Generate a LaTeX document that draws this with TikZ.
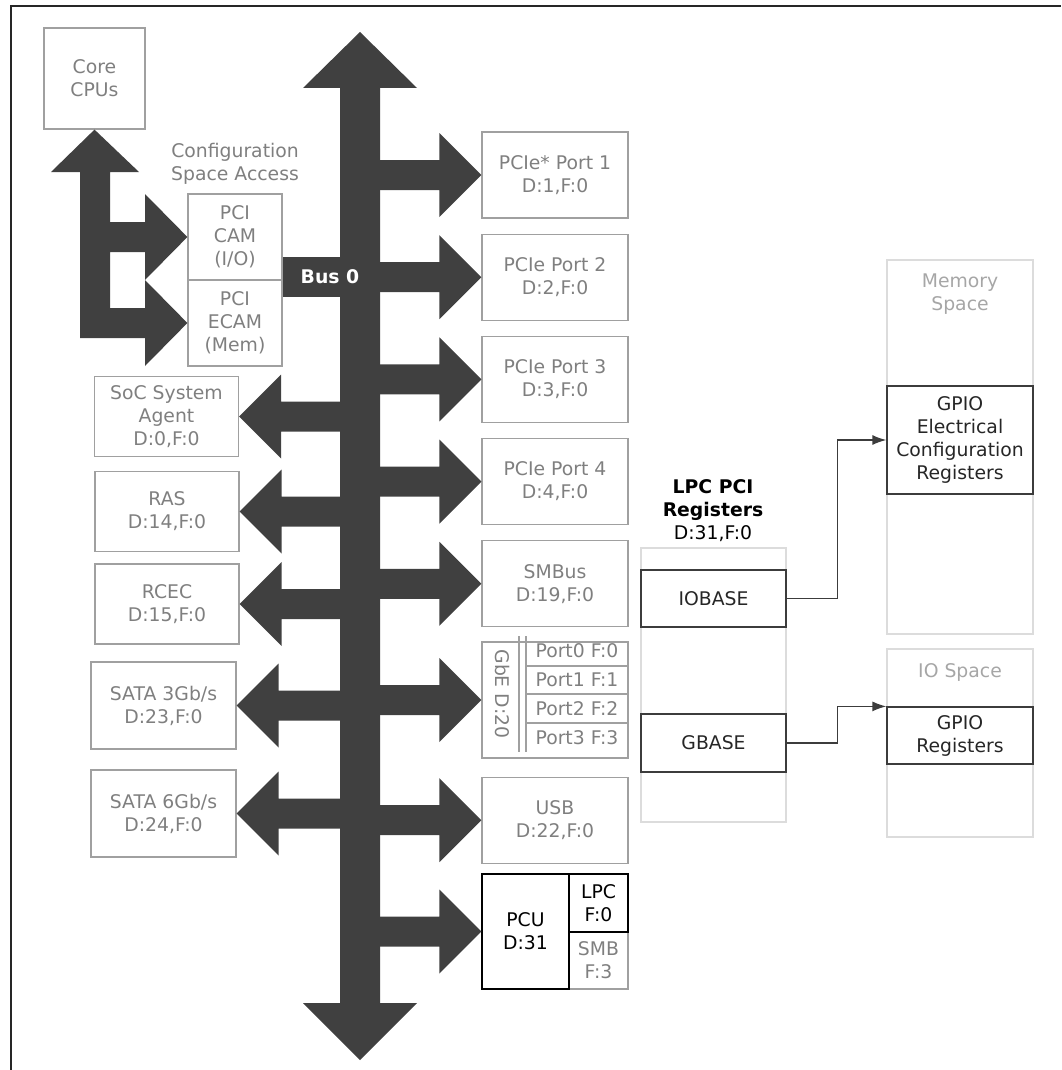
\documentclass[tikz,border=0pt]{standalone}
\usepackage{fontspec}
\setmainfont{DejaVu Sans}
\usetikzlibrary{arrows.meta,positioning}

\definecolor{busgray}{HTML}{404040}
\definecolor{boxline}{HTML}{A0A0A0}
\definecolor{boxtext}{HTML}{7F7F7F}
\definecolor{paleline}{HTML}{DCDCDC}
\definecolor{paletext}{HTML}{A6A6A6}
\definecolor{regline}{HTML}{3C3C3C}
\definecolor{regtext}{HTML}{262626}
\newcommand{\boxfont}{\fontsize{18.8}{23}\selectfont}

\begin{document}
\begin{tikzpicture}[
  x=1pt, y=-1pt,
  box/.style={draw=boxline, line width=1.2pt, text=boxtext, align=center,
              inner sep=0pt, font=\boxfont},
  pcibox/.style={box, minimum width=146pt, minimum height=86pt},
  leftbox/.style={box, minimum width=144pt, minimum height=80pt},
  regbox/.style={draw=regline, line width=1.2pt, text=regtext, align=center,
                 inner sep=0pt, font=\boxfont, minimum width=146pt},
  space/.style={draw=paleline, line width=1.2pt, inner sep=0pt,
                minimum width=146pt},
  lbl/.style={align=center, inner sep=0pt, font=\boxfont},
  bus/.style={fill=busgray},
  link/.style={draw=regline, line width=1.5pt, -{Latex[length=14pt,width=10pt]}}
]
\useasboundingbox (0,0) rectangle (1061,1070);
\draw[line width=2pt, black!85] (11,1070) -- (11,6) -- (1061,6);

% CPU side
\node[box, minimum width=101pt, minimum height=101pt] (cpu) at (94.5,78.5) {Core\\CPUs};
\node[lbl, text=boxtext] (cfg) at (235,164) {Configuration\\Space Access};
\node[box, minimum width=94pt, minimum height=86pt] (cam)  at (235,237) {PCI\\CAM\\(I/O)};
\node[box, minimum width=94pt, minimum height=86pt] (ecam) at (235,323) {PCI\\ECAM\\(Mem)};

\fill[bus] (cpu.south) -- (139,172) -- (110,172) -- (110,222) -- (145,222)
  -- (145,194) -- (cam.west) -- (145,280) -- (145,252) -- (110,252)
  -- (110,308) -- (145,308) -- (145,280) -- (ecam.west) -- (145,366)
  -- (145,338) -- (80,338) -- (80,172) -- (51,172) -- cycle;

% left devices
\node[leftbox] (sa)   at (166.5,416.5) {SoC System\\Agent\\D:0,F:0};
\node[leftbox] (ras)  at (167,511.5)   {RAS\\D:14,F:0};
\node[leftbox] (rcec) at (167,604)     {RCEC\\D:15,F:0};
\node[leftbox, minimum width=145pt, minimum height=87pt] (sata3) at (163.5,705.5) {SATA 3Gb/s\\D:23,F:0};
\node[leftbox, minimum width=145pt, minimum height=87pt] (sata6) at (163.5,813.5) {SATA 6Gb/s\\D:24,F:0};

% right devices
\node[pcibox] (pcie1) at (555,175) {PCIe* Port 1\\D:1,F:0};
\node[pcibox, below=15pt of pcie1] (pcie2) {PCIe Port 2\\D:2,F:0};
\node[pcibox, below=15pt of pcie2] (pcie3) {PCIe Port 3\\D:3,F:0};
\node[pcibox, below=15pt of pcie3] (pcie4) {PCIe Port 4\\D:4,F:0};
\node[pcibox, below=15pt of pcie4] (smbus) {SMBus\\D:19,F:0};
\node[box, minimum width=146pt, minimum height=116pt, below=14pt of smbus] (gbe) {};
\node[pcibox, below=18pt of gbe] (usb) {USB\\D:22,F:0};

% GbE ports
\draw[boxline, line width=1.2pt] (519,636) -- (519,752) (526,636) -- (526,752);
\foreach \y in {666,694,723}
  \draw[boxline, line width=1.2pt] (526,\y) -- (628,\y);
\node[lbl, text=boxtext, rotate=-90] (gbelbl) at (503,694) {GbE D:20};
\foreach \i/\y in {0/651,1/680,2/708.5,3/737.5}
  \node[lbl, text=boxtext] (gbeport\i) at (577,\y) {Port\i\ F:\i};

% PCU
\node[box, minimum width=59pt, minimum height=57pt] (smb) at (598.5,960.5) {SMB\\F:3};
\node[box, draw=black, text=black, minimum width=87pt, minimum height=115pt] (pcu) at (525.5,931.5) {PCU\\D:31};
\node[box, draw=black, text=black, minimum width=59pt, minimum height=58pt] (lpc) at (598.5,903) {LPC\\F:0};

% bus 0
\fill[bus] (360,32) -- (417,88) -- (380,88) -- (380,1003) -- (417,1003)
  -- (360,1060) -- (303,1003) -- (340,1003) -- (340,88) -- (303,88) -- cycle;
\fill[bus] (cam.east |- 0,257) rectangle (345,297);
\node[lbl, text=white, font=\boxfont\bfseries] (bus0) at (330,277) {Bus 0};

\foreach \n in {pcie1,pcie2,pcie3,pcie4,smbus,gbe,usb,pcu}
  \fill[bus] (\n.west) -- ++(-42,-42) -- ++(0,27) -- ++(-65,0) -- ++(0,30)
    -- ++(65,0) -- ++(0,27) -- cycle;
\foreach \n in {sa,ras,rcec,sata3,sata6}
  \fill[bus] (\n.east) -- ++(42,-42) -- ++(0,27) -- ++(70,0) -- ++(0,30)
    -- ++(-70,0) -- ++(0,27) -- cycle;

% LPC registers and address spaces
\node[lbl, text=black] (lpctitle) at (713,511) {\textbf{LPC PCI}\\\textbf{Registers}\\D:31,F:0};
\node[space, minimum width=145pt, minimum height=274pt] (lpcregs) at (713.5,685) {};
\node[regbox, minimum width=145pt, minimum height=57pt] (iobase) at (713.5,598.5) {IOBASE};
\node[regbox, minimum width=145pt, minimum height=58pt] (gbase)  at (713.5,743) {GBASE};

\node[space, minimum height=374pt] (memspace) at (960,447) {};
\node[lbl, text=paletext] (memlbl) at (960,294) {Memory\\Space};
\node[regbox, minimum height=108pt] (gpioe) at (960,440) {GPIO\\Electrical\\Configuration\\Registers};

\node[space, minimum height=188pt] (iospace) at (960,743) {};
\node[lbl, text=paletext] (iolbl) at (960,672) {IO Space};
\node[regbox, minimum height=57pt] (gpior) at (960,735.5) {GPIO\\Registers};

\draw[link] (iobase.east) -- ++(51,0) |- (gpioe.west);
\draw[link] (gbase.east) -- ++(51,0) |- (gpior.north west);
\end{tikzpicture}
\end{document}
